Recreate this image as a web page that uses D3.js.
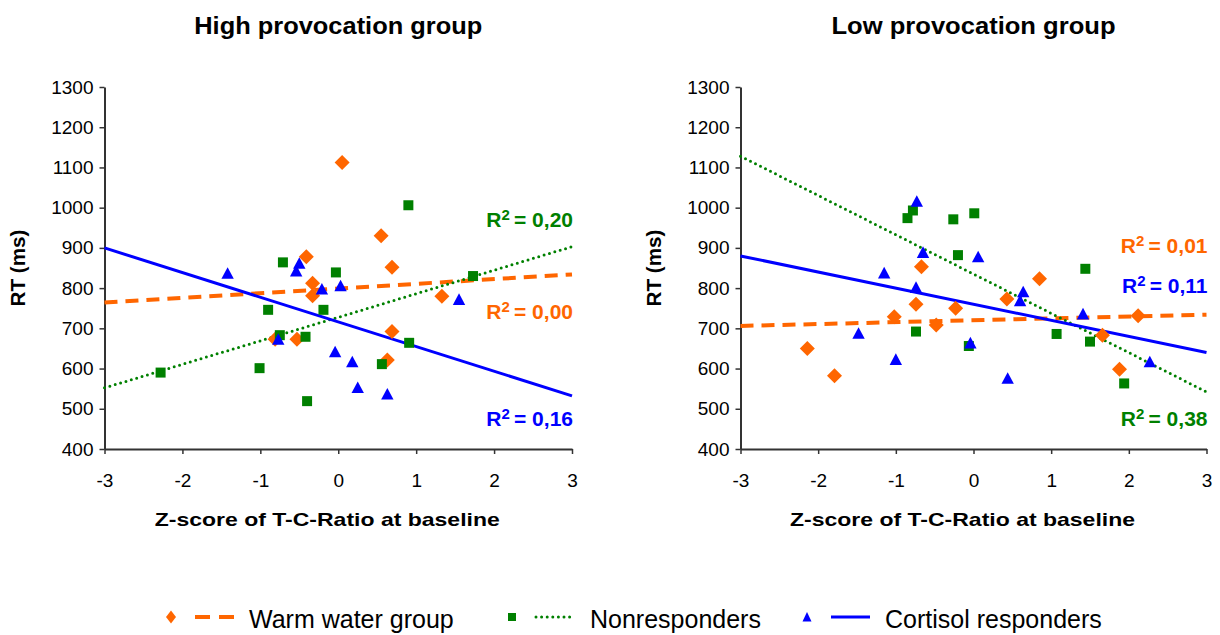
<!DOCTYPE html>
<html>
<head>
<meta charset="utf-8">
<script src="https://cdn.jsdelivr.net/npm/d3@7/dist/d3.min.js"></script>
<style>
  body { margin: 0; background: #fff; }
  svg text { font-family: "Liberation Sans", Arial, sans-serif; fill: #000; }
</style>
</head>
<body>
<div id="chart"></div>
<script>
// values: [z-score, RT]
var highWarm = [[0.05,1112],[0.55,930],[0.69,852],[-0.41,878],[-0.33,812],[-0.33,781],
                [1.33,780],[0.69,692],[0.63,621],[-0.53,673],[-0.81,673]];
var highNon = [[-2.28,590],[-1.01,601],[-0.90,746],[-0.71,864],[-0.75,683],[-0.42,679],
               [-0.40,519],[-0.19,746],[-0.03,839],[0.90,1006],[1.73,830],[0.91,664],[0.56,611]];
var highCort = [[-1.42,837],[-0.50,862],[-0.54,843],[-0.21,798],[0.03,806],[1.55,772],
                [-0.77,673],[-0.04,642],[0.18,617],[0.25,553],[0.63,537]];

var lowWarm = [[-2.14,650],[-1.79,582],[-1.02,729],[-0.74,760],[-0.48,708],[-0.23,750],
               [-0.67,853],[0.85,823],[0.43,773],[2.12,731],[1.66,683],[1.88,598]];
var lowNon = [[-0.85,974],[-0.78,993],[-0.26,971],[-0.20,882],[-0.74,692],[0.01,986],
              [1.44,848],[-0.06,656],[1.07,686],[1.50,667],[1.94,563]];
var lowCort = [[-0.73,1016],[-0.65,889],[-1.15,838],[-0.74,802],[-1.48,688],[-1.00,623],
               [0.06,878],[0.64,791],[0.60,769],[1.41,736],[-0.04,664],[0.44,576],[2.27,617]];

// trend lines (end values at x = -3 and x = 3)
var highWarmTrend = [[-3,764],[3,834]];
var highNonTrend = [[-3,552],[3,903]];
var highCortTrend = [[-3,900],[3,532]];
var lowWarmTrend = [[-3,706],[3,734]];
var lowNonTrend = [[-3,1128],[3,542]];
var lowCortTrend = [[-3,880],[3,640]];

// R squared: warm, non, cortisol
var highR2 = ["0,00","0,20","0,16"];
var lowR2 = ["0,01","0,38","0,11"];

var xTicks = [-3,-2,-1,0,1,2,3];
var yTicks = [400,500,600,700,800,900,1000,1100,1200,1300];
var seriesNames = ["Warm water group","Nonresponders","Cortisol responders"];
var colors = ["#ff6600","#008000","#0000ff"];

var svgWidth = 1220;
var svgHeight = 635;

var svg = d3.select("#chart")
  .append("svg")
  .attr("width", svgWidth)
  .attr("height", svgHeight);

var markerPath = [
  "M0,-7.5L7.5,0L0,7.5L-7.5,0Z",
  "M-5,-5L5,-5L5,5L-5,5Z",
  "M0,-6L6.2,5.6L-6.2,5.6Z"
];
var lineDash = ["13 8", "0 5.6", null];
var lineWidth = [4, 3, 3];

var yScale = d3.scaleLinear().domain([400, 1300]).range([449, 87]);

function drawPanel(p) {
  var xScale = d3.scaleLinear().domain([-3, 3]).range([p.left, p.right]);
  var g = svg.append("g");

  // title
  g.append("text")
    .attr("x", (p.left + p.right) / 2)
    .attr("y", 34)
    .attr("text-anchor", "middle")
    .attr("font-size", 23)
    .attr("font-weight", "bold")
    .attr("textLength", p.titleLen)
    .attr("lengthAdjust", "spacingAndGlyphs")
    .text(p.title);

  // axes
  var yAxis = g.append("g")
    .attr("transform", `translate(${p.left},0)`)
    .call(d3.axisLeft(yScale).tickValues(yTicks).tickSize(5).tickSizeOuter(0).tickPadding(6)
      .tickFormat(d3.format("d")));
  var xAxis = g.append("g")
    .attr("transform", `translate(0,${yScale(400)})`)
    .call(d3.axisBottom(xScale).tickValues(xTicks).tickSize(5).tickSizeOuter(0).tickPadding(20)
      .tickFormat(d => d < 0 ? "-" + Math.abs(d) : d));
  [yAxis, xAxis].forEach(function(a) {
    a.selectAll("text").attr("font-size", 19).attr("fill", "#000");
    a.select(".domain").attr("stroke", "#333").attr("stroke-width", 2);
    a.selectAll(".tick line").attr("stroke", "#333").attr("stroke-width", 1.5);
  });

  // axis titles
  g.append("text")
    .attr("transform", `translate(${p.left - 80},${yScale(850)})rotate(-90)`)
    .attr("text-anchor", "middle")
    .attr("font-size", 20)
    .attr("font-weight", "bold")
    .attr("textLength", 77)
    .attr("lengthAdjust", "spacingAndGlyphs")
    .text("RT (ms)");
  g.append("text")
    .attr("x", (p.left + p.right) / 2 - 11)
    .attr("y", 526)
    .attr("text-anchor", "middle")
    .attr("font-size", 18.5)
    .attr("font-weight", "bold")
    .attr("textLength", 345)
    .attr("lengthAdjust", "spacingAndGlyphs")
    .text("Z-score of T-C-Ratio at baseline");

  // trend lines
  var line = d3.line().x(d => xScale(d[0])).y(d => yScale(d[1]));
  p.trends.forEach(function(t, i) {
    g.append("path")
      .attr("d", line(t))
      .attr("fill", "none")
      .attr("stroke", colors[i])
      .attr("stroke-width", lineWidth[i])
      .attr("stroke-linecap", i == 1 ? "round" : "butt")
      .attr("stroke-dasharray", lineDash[i]);
  });

  // markers
  p.series.forEach(function(s, i) {
    g.selectAll(null)
      .data(s)
      .enter()
      .append("path")
      .attr("d", markerPath[i])
      .attr("transform", d => `translate(${xScale(d[0])},${yScale(d[1])})`)
      .attr("fill", colors[i]);
  });

  // R squared labels
  p.r2.forEach(function(r, i) {
    var t = g.append("text")
      .attr("x", p.right + 1)
      .attr("y", yScale(p.r2at[i]))
      .attr("text-anchor", "end")
      .attr("font-size", 21)
      .attr("font-weight", "bold")
      .style("fill", colors[i]);
    t.append("tspan").text("R");
    t.append("tspan").attr("font-size", 15).attr("dy", -7).text("2");
    t.append("tspan").attr("dy", 7).text("\u2009= " + r);
  });
}

drawPanel({
  title: "High provocation group", titleLen: 288,
  left: 104.5, right: 572,
  series: [highWarm, highNon, highCort],
  trends: [highWarmTrend, highNonTrend, highCortTrend],
  r2: highR2, r2at: [723, 952, 457]
});

drawPanel({
  title: "Low provocation group", titleLen: 284,
  left: 740.5, right: 1206.5,
  series: [lowWarm, lowNon, lowCort],
  trends: [lowWarmTrend, lowNonTrend, lowCortTrend],
  r2: lowR2, r2at: [888, 457, 787]
});

// legend
var legendMarkers = [
  "M0,-6.5L5,0L0,6.5L-5,0Z",
  "M-4,-4L4,-4L4,4L-4,4Z",
  "M0,-5L4.5,4.5L-4.5,4.5Z"
];
var legendX = [171, 512, 807];
var legend = svg.append("g").attr("transform", "translate(0,617)");
seriesNames.forEach(function(name, i) {
  var lg = legend.append("g").attr("transform", `translate(${legendX[i]},0)`);
  lg.append("path").attr("d", legendMarkers[i]).attr("fill", colors[i]);
  lg.append("line")
    .attr("x1", 24).attr("x2", 63)
    .attr("stroke", colors[i])
    .attr("stroke-width", lineWidth[i])
    .attr("stroke-linecap", i == 1 ? "round" : "butt")
    .attr("stroke-dasharray", i == 0 ? "15 9" : lineDash[i]);
  lg.append("text")
    .attr("x", 78)
    .attr("y", 10.5)
    .attr("font-size", 25)
    .text(name);
});
</script>
</body>
</html>
